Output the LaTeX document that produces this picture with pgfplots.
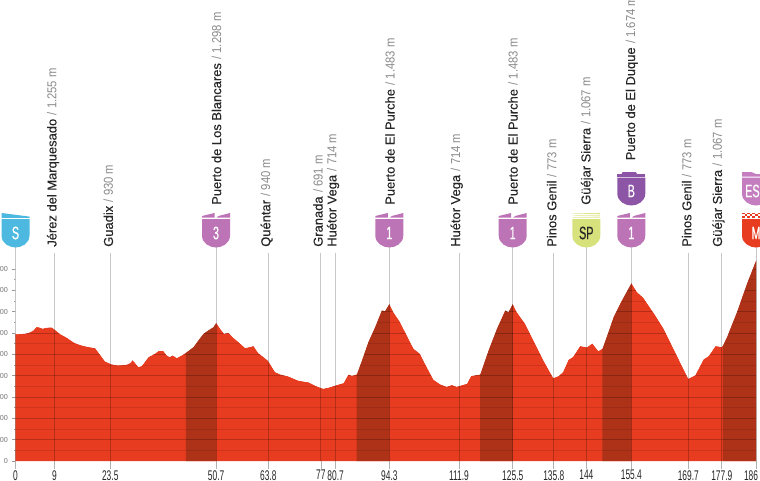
\documentclass[border=0pt]{standalone}
\usepackage{fontspec}
\usepackage{pgfplots}
\usepackage{pgfplotstable}
\pgfplotsset{compat=1.18}
\setmainfont{Liberation Sans}
\newfontfamily\namef[FakeBold=0.25]{Liberation Sans}
\newfontfamily\valf[FakeStretch=0.87]{Liberation Sans}
\newfontfamily\condf[FakeStretch=0.6]{Liberation Sans}
\newfontfamily\badgef[FakeStretch=0.6,FakeBold=0.5]{Liberation Sans}
\definecolor{prof}{HTML}{E83C20}
\definecolor{profdark}{HTML}{AE3218}
\definecolor{cat}{HTML}{BC74B7}
\definecolor{bonus}{HTML}{8D55A6}
\definecolor{esp}{HTML}{C47EC0}
\definecolor{sprint}{HTML}{D8E27C}
\definecolor{start}{HTML}{4DB8E0}
\pgfplotstableread{
km m
0.0 1188
2.4 1194
3.6 1206
4.5 1225
5.2 1256
6.0 1253
6.8 1241
7.8 1250
9.1 1253
9.9 1231
11.2 1191
12.9 1156
14.9 1106
16.6 1084
18.3 1069
20.0 1059
21.2 1000
22.5 934
24.2 906
25.8 897
27.9 903
28.8 919
29.4 947
30.0 922
30.9 881
31.7 891
33.4 975
35.0 1006
35.9 1031
37.1 1034
38.0 991
38.7 975
39.5 991
40.5 966
41.8 991
42.8 1016
44.7 1069
45.9 1131
47.2 1194
48.4 1225
49.7 1256
50.4 1297
51.4 1241
52.4 1194
53.5 1203
54.7 1156
56.0 1116
57.7 1059
59.8 1078
61.0 1012
62.3 975
63.5 938
65.2 834
66.5 812
68.5 794
71.1 753
73.6 738
75.7 700
77.3 678
78.6 688
80.7 713
82.4 731
83.6 812
84.5 800
85.7 812
87.0 944
88.6 1116
90.3 1256
92.0 1413
92.8 1406
93.9 1475
94.9 1397
96.6 1303
98.7 1147
100.0 1053
101.6 1006
103.3 881
105.0 763
106.7 719
108.3 697
109.6 713
110.8 697
113.4 725
114.4 797
116.7 812
118.8 1038
120.9 1241
123.0 1413
123.8 1397
124.9 1475
125.9 1397
128.0 1288
130.1 1131
132.6 944
135.1 778
136.4 797
137.5 834
138.9 950
140.0 975
141.8 1078
143.5 1066
144.9 1103
146.4 1031
147.4 1053
148.9 1209
150.2 1350
152.3 1506
154.7 1669
156.1 1584
157.7 1531
160.7 1366
162.8 1241
166.1 991
169.0 772
170.7 803
172.8 953
174.1 984
175.8 1078
177.4 1069
177.7 1085
178.7 1163
181.2 1397
183.7 1663
186.0 1881
}\profile
\newcommand\shield[4]{% cx, top of shield, bottom, colour
  \fill[#4] (#1-14,#2) -- (#1+14,#2) -- (#1+14,#3-12)
    .. controls (#1+14,#3-4) and (#1+6,#3) .. (#1,#3)
    .. controls (#1-6,#3) and (#1-14,#3-4) .. (#1-14,#3-12) -- cycle;}
\newcommand\flags[2]{% cx, colour
  \fill[#2] (#1-14,217.7) -- (#1-14,216) -- (#1-1.5,213) -- (#1-1.5,217.7) -- cycle;
  \fill[#2] (#1+0.5,217.7) -- (#1+2.5,216) -- (#1+14,213) -- (#1+14,217.7) -- cycle;}
\newcommand\lab[4]{\node[rotate=90,anchor=west,inner sep=0pt,font=\fontsize{9.7}{10}\selectfont] at (#1,#2)
  {{\namef\color[HTML]{262626}#3} {\valf\color[HTML]{8A8A8A}/ #4}};}
\newcommand\btxt[4]{\node[inner sep=0pt,text=#4,font=\badgef\fontsize{13.5}{14}\selectfont] at (#1,#2) {#3};}
\begin{document}
\begin{tikzpicture}
\path[use as bounding box] (0,0) rectangle (570pt,360pt);
\begin{axis}[
  at={(11.625pt,14.25pt)}, anchor=south west,
  scale only axis, width=555.375pt, height=345.75pt,
  xmin=0, xmax=186, ymin=0, ymax=4320,
  clip=false,
  axis line style={draw=none},
  tick align=outside, tick pos=left,
  xtick={0,9.8,23.8,50.4,63.5,76.7,80.4,93.9,111.4,124.9,135.2,143.4,154.7,169.0,177.4,186},
  xticklabels={0,9,23.5,50.7,63.8,77,80.7,94.3,111.9,125.5,135.8,144,155.4,169.7,177.9,186\hspace*{7.5pt}},
  ytick={0,200,400,600,800,1000,1200,1400,1600,1800},
  minor ytick={100,300,500,700,900,1100,1300,1500,1700},
  scaled y ticks=false,
  /pgf/number format/assume math mode=true,
  /pgf/number format/1000 sep={},
  xtick style={color=black!30,line width=0.5pt,/pgfplots/major tick length=6pt},
  ytick style={color=black!40,line width=0.35pt,/pgfplots/major tick length=2.6pt,/pgfplots/minor tick length=1.3pt},
  xticklabel style={font=\condf\fontsize{10.5}{10.5}\selectfont,text=black!85,inner sep=0pt,yshift=-2.5pt},
  yticklabel style={font=\fontsize{5.4}{6}\selectfont,text=black!55,inner sep=0pt,xshift=-1.2pt},
]
\addplot[fill=prof,draw=none] table[x=km,y=m] {\profile} -- (axis cs:186,0) -- (axis cs:0,0) -- cycle;
\addplot[fill=profdark,draw=none,restrict x to domain=42.75:50.45] table[x=km,y=m] {\profile} -- (axis cs:50.4,0) -- (axis cs:42.8,0) -- cycle;
\addplot[fill=profdark,draw=none,restrict x to domain=85.65:93.95] table[x=km,y=m] {\profile} -- (axis cs:93.9,0) -- (axis cs:85.7,0) -- cycle;
\addplot[fill=profdark,draw=none,restrict x to domain=116.65:124.95] table[x=km,y=m] {\profile} -- (axis cs:124.9,0) -- (axis cs:116.7,0) -- cycle;
\addplot[fill=profdark,draw=none,restrict x to domain=147.35:154.75] table[x=km,y=m] {\profile} -- (axis cs:154.7,0) -- (axis cs:147.4,0) -- cycle;
\addplot[fill=profdark,draw=none,restrict x to domain=177.65:186.05] table[x=km,y=m] {\profile} -- (axis cs:186,0) -- (axis cs:177.7,0) -- cycle;
\pgfplotsinvokeforeach{100,300,500,700,900,1100,1300,1500,1700}{
  \addplot[black,opacity=0.10,line width=0.4pt] coordinates {(0,#1) (186,#1)};}
\pgfplotsinvokeforeach{200,400,600,800,1000,1200,1400,1600,1800}{
  \addplot[black,opacity=0.22,line width=0.4pt] coordinates {(0,#1) (186,#1)};}
\addplot[fill=white,draw=none] table[x=km,y=m] {\profile} -- (axis cs:186,2000) -- (axis cs:0,2000) -- cycle;
% vertical markers
\pgfplotsinvokeforeach{0,50.4,93.9,124.9,143.4,154.7,186}{
  \addplot[black,opacity=0.22,line width=0.6pt] coordinates {(#1,0) (#1,2010)};}
\pgfplotsinvokeforeach{9.8,23.8,63.5,76.7,80.4,111.4,135.2,169.0,177.4}{
  \addplot[black,opacity=0.22,line width=0.6pt] coordinates {(#1,0) (#1,1950)};}
\end{axis}
\begin{scope}[shift={(0,360pt)},x=0.75pt,y=-0.75pt]
% labels
\lab{53}{247}{Jérez del Marquesado}{1.255 m}
\lab{108.3}{247}{Guadix}{930 m}
\lab{216.5}{205}{Puerto de Los Blancares}{1.298 m}
\lab{266.7}{247}{Quéntar}{940 m}
\lab{318}{247}{Granada}{691 m}
\lab{333}{247}{Huétor Vega}{714 m}
\lab{390}{205}{Puerto de El Purche}{1.483 m}
\lab{456.7}{247}{Huétor Vega}{714 m}
\lab{513}{205}{Puerto de El Purche}{1.483 m}
\lab{551.7}{247}{Pinos Genil}{773 m}
\lab{587}{205}{Güéjar Sierra}{1.067 m}
\lab{631.7}{160.5}{Puerto de El Duque}{1.674 m}
\lab{686.7}{247}{Pinos Genil}{773 m}
\lab{718.5}{247}{Güéjar Sierra}{1.067 m}
% start badge
\shield{15.5}{219}{247.5}{start}
\fill[start] (1.7,213) -- (29.5,216.6) -- (29.5,217.8) -- (1.7,217.8) -- cycle;
\btxt{15.5}{233}{S}{white}
% cat 3
\shield{216}{219}{247.5}{cat}\flags{216}{cat}\btxt{216}{233}{3}{white}
% cat 1
\shield{389.3}{219}{247.5}{cat}\flags{389.3}{cat}\btxt{389.3}{233}{1}{white}
\shield{512.7}{219}{247.5}{cat}\flags{512.7}{cat}\btxt{512.7}{233}{1}{white}
\shield{631.3}{219}{247.5}{cat}\flags{631.3}{cat}\btxt{631.3}{233}{1}{white}
% sprint
\shield{586.3}{219}{247.5}{sprint}
\foreach \yy in {213.5,215.3,217.2}{\fill[sprint!85!white] (573,\yy) -- (600,\yy-0.6) -- (600,\yy+0.4) -- (573,\yy+0.4) -- cycle;}
\btxt{586.3}{233}{SP}{black!85}
% bonus
\shield{631.3}{177.5}{205.5}{bonus}
\fill[bonus] (617.3,174.2) -- (645.3,174.2) -- (645.3,176.6) -- (617.3,176.6) -- cycle;
\fill[bonus] (622.5,172) -- (636,172) -- (637,174.2) -- (621.5,174.2) -- cycle;
\btxt{631.3}{191}{B}{white}
% finish
\shield{756}{219}{247.5}{prof}
\foreach \i in {0,...,7}{\foreach \j in {0,1,2}{
  \pgfmathparse{int(mod(\i+\j,2))}\ifnum\pgfmathresult=0
  \fill[prof] ({742+\i*2.6},{212.6+\j*1.8}) rectangle ++(2.6,1.8);\fi}}
\btxt{756}{233}{M}{white}
\shield{756}{177.5}{205.5}{esp}
\fill[esp] (742,172) -- (751,172) -- (756,174) -- (770,174) -- (770,176.6) -- (742,176.6) -- cycle;
\btxt{756}{191}{ESP}{white}
\end{scope}
\end{tikzpicture}
\end{document}
